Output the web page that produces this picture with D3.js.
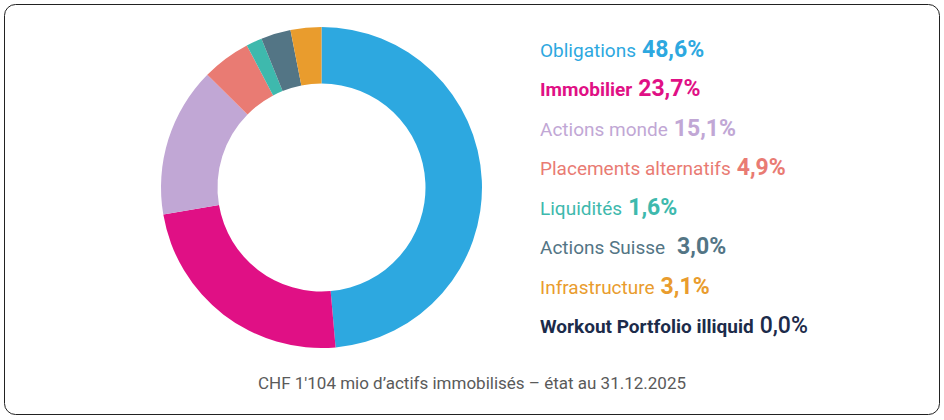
<!DOCTYPE html>
<html>
<head>
<meta charset="utf-8">
<script src="https://cdn.jsdelivr.net/npm/d3@7"></script>
<style>
  body { margin: 0; background: #fff; }
  svg { display: block; }
</style>
</head>
<body>
<div id="chart"></div>
<script>
const categories = [
  "Obligations",
  "Immobilier",
  "Actions monde",
  "Placements alternatifs",
  "Liquidités",
  "Actions Suisse",
  "Infrastructure",
  "Workout Portfolio illiquid",
];
const shares = [48.6, 23.7, 15.1, 4.9, 1.6, 3.0, 3.1, 0.0];
const valueLabels = ["48,6%", "23,7%", "15,1%", "4,9%", "1,6%", "3,0%", "3,1%", "0,0%"];
const colors = ["#2da8e0", "#e01085", "#c1a7d5", "#e97b73", "#3eb9ad", "#537585", "#e99c2d", "#1c2b4a"];
const boldLabels = [false, true, false, false, false, false, false, true];
const caption = "CHF 1'104 mio d\u2019actifs immobilisés \u2013 état au 31.12.2025";

const width = 944;
const height = 420;

const svg = d3
  .select("#chart")
  .append("svg")
  .attr("width", width)
  .attr("height", height);

// frame
svg
  .append("rect")
  .attr("x", 4.5)
  .attr("y", 4.5)
  .attr("width", 935)
  .attr("height", 410)
  .attr("rx", 11)
  .attr("fill", "#fff")
  .attr("stroke", "#222")
  .attr("stroke-width", 1);

const data = categories.map((c, i) => ({
  name: c,
  value: shares[i],
  label: valueLabels[i],
  color: colors[i],
  bold: boldLabels[i],
}));

// donut
const pie = d3.pie().sort(null).value((d) => d.value);
const arc = d3.arc().innerRadius(104).outerRadius(160.5);

const g = svg.append("g").attr("transform", "translate(321.5,187.5)");
g.selectAll("path")
  .data(pie(data.filter((d) => d.value > 0)))
  .join("path")
  .attr("d", arc)
  .attr("fill", (d) => d.data.color);

// legend
const rowY = d3.scalePoint().domain(categories).range([57, 333]);

const legend = svg
  .append("g")
  .attr("font-family", "Roboto, 'Noto Sans', sans-serif");

const rows = legend
  .selectAll("text")
  .data(data)
  .join("text")
  .attr("x", 540)
  .attr("y", (d) => rowY(d.name))
  .attr("fill", (d) => d.color);

rows
  .append("tspan")
  .attr("font-size", 19)
  .attr("font-weight", (d) => (d.bold ? 700 : 400))
  .text((d) => d.name);

rows
  .append("tspan")
  .attr("dx", (d) => (d.name === "Actions Suisse" ? 12 : 6))
  .attr("font-size", 23)
  .attr("font-weight", (d) => (d.name === "Workout Portfolio illiquid" ? 500 : 700))
  .text((d) => d.label);

// caption
svg
  .append("text")
  .attr("x", 472)
  .attr("y", 389)
  .attr("text-anchor", "middle")
  .attr("font-family", "Roboto, 'Noto Sans', sans-serif")
  .attr("font-size", 17)
  .attr("fill", "#5a5a5a")
  .text(caption);
</script>
</body>
</html>
